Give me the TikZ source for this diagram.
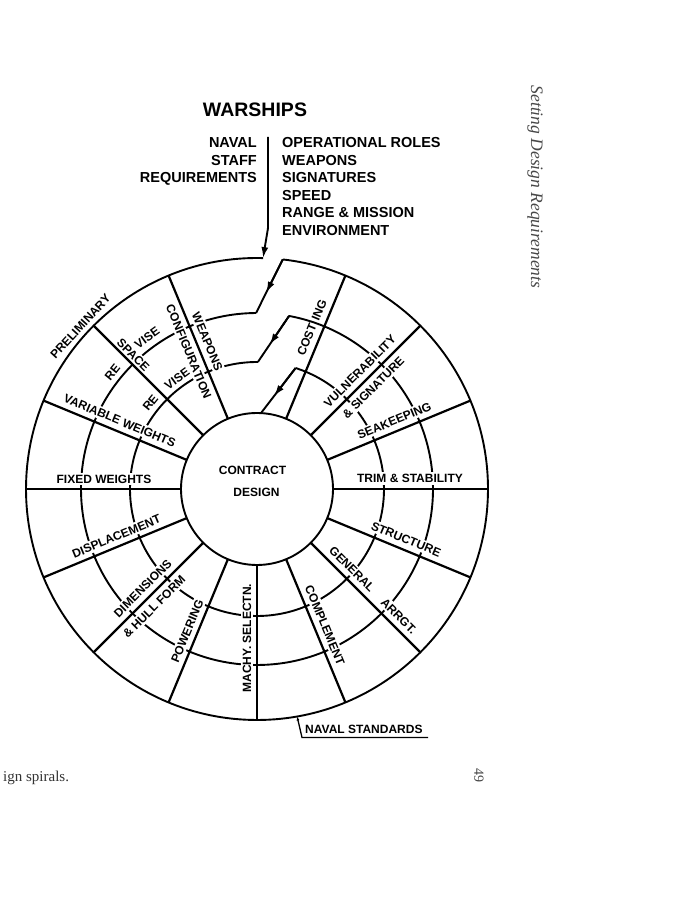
\documentclass[tikz,border=0pt]{standalone}
\usepackage{fontspec}
\setmainfont{Liberation Serif}
\newfontfamily\lsans{Liberation Sans}
\usetikzlibrary{calc,arrows.meta}
\newcommand{\wl}[6]{\node[lab,rotate=#5] (#1) at ($(C)+(#2:#3)+(#2+90:#4)$) {#6};}
\begin{document}
\begin{tikzpicture}[x=1pt,y=1pt,
  ring/.style={line width=1.9pt},
  spoke/.style={line width=2.2pt},
  lab/.style={font=\lsans\bfseries\fontsize{12}{14}\selectfont, inner sep=2pt, fill=white},
  labnf/.style={font=\lsans\bfseries\fontsize{12}{14}\selectfont, inner sep=1pt},
  hd/.style={font=\lsans\bfseries\fontsize{14.5}{17}\selectfont, inner sep=0pt},
  tipd/.style={-{Latex[length=11pt,width=7pt]}}
]
\useasboundingbox (0,0) rectangle (680,900);
\fill[white] (0,0) rectangle (680,900);
\coordinate (C) at (257,411);

% rings of the spiral
\draw[ring] ($(C)+(88.5:231)$) arc[start angle=88.5,end angle=443.6,radius=231pt];
\draw[ring] ($(C)+(90.3:176)$) arc[start angle=90.3,end angle=439.5,radius=176pt];
\draw[ring] ($(C)+(89.6:127)$) arc[start angle=89.6,end angle=432.3,radius=127pt];
\draw[ring] (C) circle[radius=76pt];

% spoke labels (masking the rings)
\wl{weap}{112.5}{155}{-10.5}{-67.5}{WEAPONS}
\wl{conf}{112.5}{153}{10.5}{-67.5}{CONFIGURATION}
\wl{space}{135}{182}{-7}{-45}{SPACE}
\wl{varw}{157.5}{153}{-10.5}{-22.5}{VARIABLE WEIGHTS}
\wl{fixw}{180}{153}{-10}{0}{FIXED WEIGHTS}
\wl{disp}{202.5}{148}{-10}{22.5}{DISPLACEMENT}
\wl{dim}{225}{151}{-10.5}{45}{DIMENSIONS}
\wl{hull}{225}{156}{10.5}{45}{\& HULL FORM}
\wl{pow}{247.5}{158}{-10}{67.5}{POWERING}
\wl{machy}{270}{149}{-10}{90}{MACHY. SELECTN.}
\wl{comp}{292.5}{152}{10.5}{-67.5}{COMPLEMENT}
\wl{gen}{315}{124}{10.5}{-45}{GENERAL}
\wl{arr}{315}{190}{10.5}{-45}{ARRGT.}
\wl{struc}{337.5}{157}{10.5}{-22.5}{STRUCTURE}
\wl{trim}{0}{153}{10.5}{0}{TRIM \& STABILITY}
\wl{seak}{22.5}{153}{10.5}{22.5}{SEAKEEPING}
\wl{vuln}{45}{156}{10.5}{45}{VULNERABILITY}
\wl{sig}{45}{154}{-10.5}{45}{\& SIGNATURE}
\node[labnf,rotate=67.5] (cost) at ($(C)+(67.5:170)+(157.5:11)$) {COST\hspace{5pt}ING};
\node[labnf,rotate=51] (re2) at ($(C)+(141:186)$) {RE};
\node[labnf,rotate=36] (vise2) at ($(C)+(126:187)$) {VISE};
\node[labnf,rotate=51] (re1) at ($(C)+(141:137)$) {RE};
\node[labnf,rotate=36] (vise1) at ($(C)+(126:136)$) {VISE};
\node[labnf,rotate=47.4] (prelim) at ($(C)+(137.4:240)$) {PRELIMINARY};

% spokes
\foreach \a in {0,22.5,45,67.5,112.5,135,157.5,180,202.5,225,247.5,270,292.5,315,337.5}
  \draw[spoke] ($(C)+(\a:76)$) -- ($(C)+(\a:231)$);

% spiral steps (arrowhead half way along each step)
\coordinate (o1) at ($(C)+(83.6:231)$);
\coordinate (m1) at ($(C)+(90.3:176)$);
\coordinate (m2) at ($(C)+(79.5:176)$);
\coordinate (i1) at ($(C)+(89.6:127)$);
\coordinate (i2) at ($(C)+(72.3:127)$);
\coordinate (c1) at ($(C)+(87:76)$);
\draw[ring] (o1) -- (m1);
\draw[ring] (m2) -- (i1);
\draw[ring] (i2) -- (c1);
\draw[ring,tipd] (o1) -- ($(o1)!0.62!(m1)$);
\draw[ring,tipd] (m2) -- ($(m2)!0.62!(i1)$);
\draw[ring,tipd] (i2) -- ($(i2)!0.62!(c1)$);

% centre
\node[labnf] (contract) at (252.5,430) {CONTRACT};
\node[labnf] (design) at (256.5,408) {DESIGN};

% header
\node[font=\lsans\bfseries\fontsize{19.5}{22}\selectfont] (title) at (255,790) {WARSHIPS};
\node[hd,anchor=base east] (l1) at (257,752) {NAVAL};
\node[hd,anchor=base east] (l2) at (257,734.5) {STAFF};
\node[hd,anchor=base east] (l3) at (257,717) {REQUIREMENTS};
\node[hd,anchor=base west] (r1) at (282,752) {OPERATIONAL ROLES};
\node[hd,anchor=base west] (r2) at (282,734.5) {WEAPONS};
\node[hd,anchor=base west] (r3) at (282,717) {SIGNATURES};
\node[hd,anchor=base west] (r4) at (282,699.5) {SPEED};
\node[hd,anchor=base west] (r5) at (282,682) {RANGE \& MISSION};
\node[hd,anchor=base west] (r6) at (282,664.5) {ENVIRONMENT};
\coordinate (top) at (268,763);
\coordinate (bend) at (268,672);
\coordinate (tip) at ($(C)+(88.5:231)$);
\draw[line width=1.9pt,tipd] (top) -- (bend) -- (tip);

% naval standards
\node[labnf,anchor=base west,inner sep=0pt] (ns) at (305,166) {NAVAL STANDARDS};
\coordinate (nsR) at (428,162.5);
\coordinate (nsL) at (302,162.5);
\draw[line width=1.3pt,-{Latex[length=4pt,width=3pt]}] (nsR) -- (nsL) -- ($(C)+(280:231)$);

% page text
\node[font=\itshape\fontsize{17.5}{20}\selectfont,text=black!72,rotate=-90] (side) at (535,713) {Setting Design Requirements};
\node[font=\fontsize{14}{16}\selectfont,text=black!72,rotate=-90] (pg) at (479,124) {49};
\node[font=\fontsize{15}{18}\selectfont,text=black!80,anchor=base west,inner sep=0pt] (cap) at (3,118) {ign spirals.};
\end{tikzpicture}
\end{document}
